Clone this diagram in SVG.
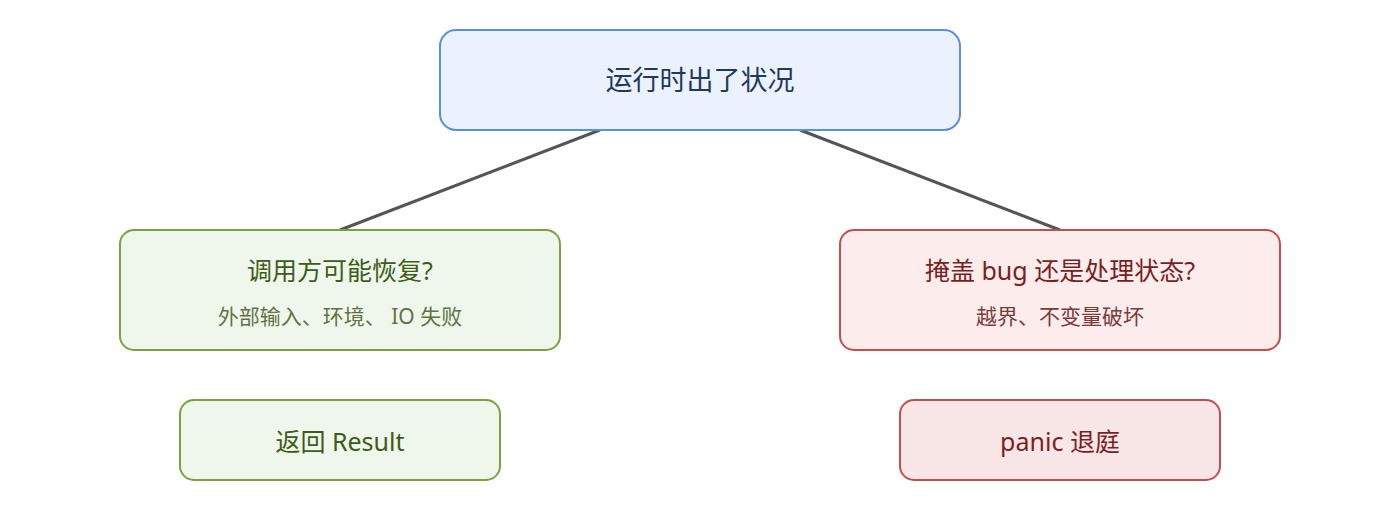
<svg xmlns="http://www.w3.org/2000/svg" width="1400" height="520" viewBox="0 0 1400 520">
<style>
text{font-family:"Noto Sans","Noto Sans CJK SC",sans-serif;text-anchor:middle}
.g rect{fill:#eff7ec;stroke:#7aa33f;stroke-width:2}
.r rect{fill:#fcecec;stroke:#c0504d;stroke-width:2}
.t{font-size:25px}
.s{font-size:21px}
.g .t{fill:#3d5c18}.g .s{fill:#5e7344}
.r .t{fill:#7a1f1f}.r .s{fill:#7a3a3a}
</style>
<rect width="1400" height="520" fill="#fff"/>
<g id="connectors" stroke="#555" stroke-width="3" fill="none">
<line x1="600" y1="130" x2="340" y2="230"/>
<line x1="800" y1="130" x2="1060" y2="230"/>
</g>
<g id="top"><rect x="440" y="30" width="520" height="100" rx="16" fill="#ebf2fe" stroke="#5b8fe0" stroke-width="2"/>
<text x="700" y="90" font-size="27" fill="#1e3a5f">运行时出了状况</text></g>
<g id="left" class="g"><rect x="120" y="230" width="440" height="120" rx="14"/>
<text class="t" x="340" y="280">调用方可能恢复?</text>
<text class="s" x="340" y="324">外部输入、环境、 IO 失败</text></g>
<g id="right" class="r"><rect x="840" y="230" width="440" height="120" rx="14"/>
<text class="t" x="1060" y="280">掩盖 bug 还是处理状态?</text>
<text class="s" x="1060" y="324">越界、不变量破坏</text></g>
<g id="result" class="g"><rect x="180" y="400" width="320" height="80" rx="14"/>
<text class="t" x="340" y="451" font-size="24">返回 Result</text></g>
<g id="panic" class="r"><rect x="900" y="400" width="320" height="80" rx="14" style="fill:#f9e6e6"/>
<text class="t" x="1060" y="451" font-size="24">panic 退庭</text></g>
</svg>
